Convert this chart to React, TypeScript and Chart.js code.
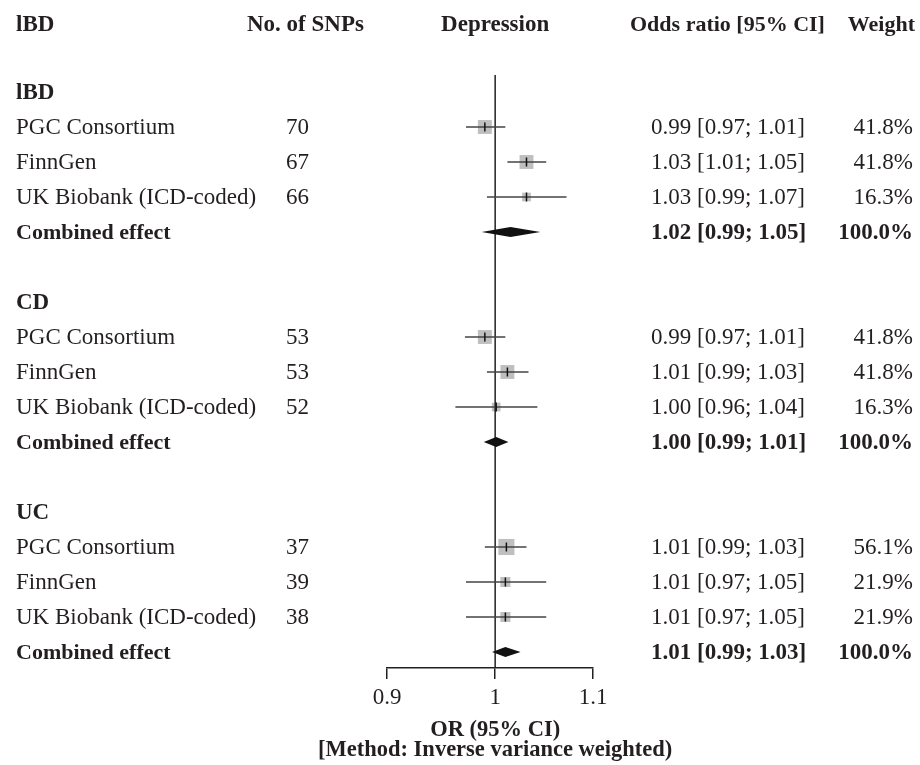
import React, { useEffect, useRef } from 'react';
import Chart from 'chart.js/auto';

const columnHeaders = ['lBD', 'No. of SNPs', 'Depression', 'Odds ratio [95% CI]', 'Weight'];
const groupNames = ['lBD', 'CD', 'UC'];
const studyNames = ['PGC Consortium', 'FinnGen', 'UK Biobank (ICD-coded)'];
const combinedName = 'Combined effect';
const snpCounts = [[70, 67, 66], [53, 53, 52], [37, 39, 38]];
const studyOR = [[0.990, 1.031, 1.031], [0.990, 1.012, 1.001], [1.011, 1.010, 1.010]];
const studyLower = [[0.972, 1.012, 0.992], [0.971, 0.992, 0.962], [0.990, 0.972, 0.972]];
const studyUpper = [[1.010, 1.051, 1.072], [1.010, 1.033, 1.042], [1.031, 1.051, 1.051]];
const studyWeights = [[41.8, 41.8, 16.3], [41.8, 41.8, 16.3], [56.1, 21.9, 21.9]];
const studyORLabels = [
  ['0.99 [0.97; 1.01]', '1.03 [1.01; 1.05]', '1.03 [0.99; 1.07]'],
  ['0.99 [0.97; 1.01]', '1.01 [0.99; 1.03]', '1.00 [0.96; 1.04]'],
  ['1.01 [0.99; 1.03]', '1.01 [0.97; 1.05]', '1.01 [0.97; 1.05]'],
];
const studyWeightLabels = [
  ['41.8%', '41.8%', '16.3%'],
  ['41.8%', '41.8%', '16.3%'],
  ['56.1%', '21.9%', '21.9%'],
];
const combinedOR = [1.015, 1.001, 1.010];
const combinedLower = [0.987, 0.989, 0.997];
const combinedUpper = [1.045, 1.013, 1.025];
const combinedORLabels = ['1.02 [0.99; 1.05]', '1.00 [0.99; 1.01]', '1.01 [0.99; 1.03]'];
const combinedWeightLabels = ['100.0%', '100.0%', '100.0%'];
const axisTicks = [0.9, 1, 1.1];
const axisTickLabels = ['0.9', '1', '1.1'];
const axisTitle = ['OR (95% CI)', '[Method: Inverse variance weighted)'];

const W = 920;
const H = 765;
const INK = '#231f20';
const FONT = '"Liberation Serif", "Times New Roman", serif';
const FS = 23;

const headerSlot = (g: number) => 2 + 6 * g;
const studySlot = (g: number, i: number) => 3 + 6 * g + i;
const combinedSlot = (g: number) => 6 + 6 * g;
const Y_MIN = (75 - 22) / 35;
const Y_MAX = (668 - 22) / 35;

const forestPlugin = {
  id: 'forest',
  afterDatasetsDraw(chart: any) {
    const { ctx, chartArea } = chart;
    const x = chart.scales.x;
    const y = chart.scales.y;
    ctx.save();
    const x1 = x.getPixelForValue(1);
    ctx.strokeStyle = INK;
    ctx.lineWidth = 1.5;
    ctx.beginPath();
    ctx.moveTo(x1, chartArea.top);
    ctx.lineTo(x1, chartArea.bottom);
    ctx.stroke();
    groupNames.forEach((_, g) => {
      studyNames.forEach((__, i) => {
        const py = y.getPixelForValue(studySlot(g, i));
        const lo = x.getPixelForValue(studyLower[g][i]);
        const hi = x.getPixelForValue(studyUpper[g][i]);
        const px = x.getPixelForValue(studyOR[g][i]);
        ctx.strokeStyle = '#444';
        ctx.lineWidth = 1.5;
        ctx.beginPath();
        ctx.moveTo(lo, py);
        ctx.lineTo(hi, py);
        ctx.stroke();
        ctx.strokeStyle = '#111';
        ctx.beginPath();
        ctx.moveTo(px, py - 4.5);
        ctx.lineTo(px, py + 4.5);
        ctx.stroke();
      });
      const cy = y.getPixelForValue(combinedSlot(g));
      const cl = x.getPixelForValue(combinedLower[g]);
      const cu = x.getPixelForValue(combinedUpper[g]);
      const ce = x.getPixelForValue(combinedOR[g]);
      ctx.fillStyle = '#111';
      ctx.beginPath();
      ctx.moveTo(cl, cy);
      ctx.lineTo(ce, cy - 5);
      ctx.lineTo(cu, cy);
      ctx.lineTo(ce, cy + 5);
      ctx.closePath();
      ctx.fill();
    });
    ctx.restore();
  },
  afterDraw(chart: any) {
    const { ctx } = chart;
    const x = chart.scales.x;
    const y = chart.scales.y;
    const x1 = x.getPixelForValue(1);
    const text = (s: string, px: number, py: number, align: CanvasTextAlign, bold: boolean, size = FS) => {
      ctx.font = `${bold ? 'bold ' : ''}${size}px ${FONT}`;
      ctx.textAlign = align;
      ctx.fillText(s, px, py);
    };
    ctx.save();
    ctx.fillStyle = INK;
    ctx.textBaseline = 'middle';
    const hy = y.getPixelForValue(0) + 3;
    text(columnHeaders[0], 16, hy, 'left', true);
    text(columnHeaders[1], 247, hy, 'left', true);
    text(columnHeaders[2], x1, hy, 'center', true);
    text(columnHeaders[3], 630, hy, 'left', true, 22);
    text(columnHeaders[4], 915, hy, 'right', true, 22);
    groupNames.forEach((name, g) => {
      text(name, 16, y.getPixelForValue(headerSlot(g)) + 1, 'left', true);
      studyNames.forEach((s, i) => {
        const py = y.getPixelForValue(studySlot(g, i)) + 1;
        text(s, 16, py, 'left', false);
        text(String(snpCounts[g][i]), 309, py, 'right', false);
        text(studyORLabels[g][i], 651, py, 'left', false);
        text(studyWeightLabels[g][i], 913, py, 'right', false);
      });
      const cy = y.getPixelForValue(combinedSlot(g)) + 1;
      text(combinedName, 16, cy, 'left', true, 22);
      text(combinedORLabels[g], 651, cy, 'left', true);
      text(combinedWeightLabels[g], 913, cy, 'right', true);
    });
    text(axisTitle[0], x1, 730, 'center', true, 22.5);
    text(axisTitle[1], x1, 750, 'center', true, 22.5);
    ctx.restore();
  },
};

export default function App() {
  const ref = useRef<HTMLCanvasElement>(null);
  useEffect(() => {
    if (!ref.current) return;
    const points: any[] = [];
    const radii: number[] = [];
    groupNames.forEach((_, g) => {
      studyNames.forEach((__, i) => {
        points.push({ x: studyOR[g][i], y: studySlot(g, i) });
        const side = 2.15 * Math.sqrt(studyWeights[g][i]);
        radii.push(side / Math.SQRT2);
      });
    });
    const chart = new Chart(ref.current, {
      type: 'scatter',
      data: {
        datasets: [
          {
            data: points,
            pointStyle: 'rect',
            pointRadius: radii,
            pointHoverRadius: radii,
            backgroundColor: '#bfbfbf',
            borderWidth: 0,
          },
        ],
      },
      options: {
        responsive: false,
        animation: false,
        events: [],
        layout: { padding: { left: 387, right: 327, top: 75, bottom: 0 } },
        plugins: { legend: { display: false }, tooltip: { enabled: false } },
        scales: {
          x: {
            type: 'logarithmic',
            min: 0.9,
            max: 1.1,
            position: 'bottom',
            afterBuildTicks: (s: any) => {
              s.ticks = axisTicks.map((v) => ({ value: v }));
            },
            afterFit: (s: any) => {
              s.height = H - 668;
            },
            ticks: {
              callback: (_v: any, i: number) => axisTickLabels[i],
              autoSkip: false,
              maxRotation: 0,
              padding: 5,
              color: INK,
              font: { family: FONT, size: FS },
            },
            grid: { drawOnChartArea: false, drawTicks: true, tickLength: 11, color: INK, lineWidth: 1.5 },
            border: { display: true, color: INK, width: 1.5 },
          },
          y: {
            type: 'linear',
            display: false,
            reverse: true,
            min: Y_MIN,
            max: Y_MAX,
          },
        },
      },
      plugins: [forestPlugin],
    } as any);
    return () => chart.destroy();
  }, []);
  return (
    <div style={{ position: 'fixed', left: 0, top: 0, width: W, height: H, background: '#fff' }}>
      <canvas ref={ref} width={W} height={H} />
    </div>
  );
}
